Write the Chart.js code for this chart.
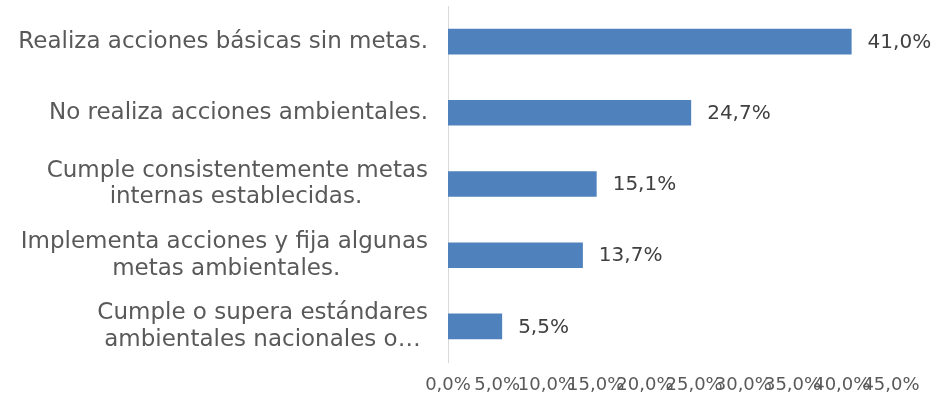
<!DOCTYPE html>
<html>
<head>
<meta charset="utf-8">
<script src="https://cdn.jsdelivr.net/npm/chart.js@4"></script>
<style>
  html, body { margin: 0; padding: 0; background: #fff; }
  #wrap { width: 936px; height: 406px; }
</style>
</head>
<body>
<div id="wrap"><canvas id="barras"></canvas></div>
<script>
let categorias = [
    ['Realiza acciones básicas sin metas.'],
    ['No realiza acciones ambientales.'],
    ['Cumple consistentemente metas', 'internas establecidas.'],
    ['Implementa acciones y fija algunas', 'metas ambientales.'],
    ['Cumple o supera estándares', 'ambientales nacionales o…']
];
let porcentajes = [41.0, 24.7, 15.1, 13.7, 5.5];
let ticksX = [0, 5, 10, 15, 20, 25, 30, 35, 40, 45];

const fuente = "'DejaVu Sans', sans-serif";
const tamCat = 23;

function formato(v) {
    return v.toFixed(1).replace('.', ',') + '%';
}

// centra las lineas de cada etiqueta entre si (el bloque queda alineado a la derecha)
const medidor = document.createElement('canvas').getContext('2d');
function centrarLineas(lineas) {
    if (lineas.length < 2) return lineas;
    medidor.font = tamCat + 'px ' + fuente;
    const anchoEsp = medidor.measureText(' ').width;
    const anchos = lineas.map(l => medidor.measureText(l).width);
    const maximo = Math.max(...anchos);
    return lineas.map((l, i) => l + ' '.repeat(Math.round((maximo - anchos[i]) / 2 / anchoEsp)));
}

// etiquetas de valor a la derecha de cada barra
const etiquetas = {
    id: 'etiquetas',
    afterDatasetsDraw(chart) {
        const ctx = chart.ctx;
        const meta = chart.getDatasetMeta(0);
        ctx.save();
        ctx.font = '20px ' + fuente;
        ctx.fillStyle = '#404040';
        ctx.textAlign = 'left';
        ctx.textBaseline = 'middle';
        meta.data.forEach((bar, i) => {
            ctx.fillText(formato(porcentajes[i]), bar.x + 16, bar.y + 1);
        });
        ctx.restore();
    }
};

const config = {
    type: 'bar',
    data: {
        labels: categorias,
        datasets: [{
            data: porcentajes,
            backgroundColor: '#4f81bd',
            borderWidth: 0,
            categoryPercentage: 1,
            barPercentage: 0.36
        }]
    },
    options: {
        indexAxis: 'y',
        responsive: true,
        maintainAspectRatio: false,
        animation: false,
        layout: { padding: { top: 6, right: 45, left: 0, bottom: 0 } },
        plugins: {
            legend: { display: false },
            tooltip: { enabled: false }
        },
        scales: {
            x: {
                min: 0,
                max: 45,
                afterBuildTicks(scale) {
                    scale.ticks = ticksX.map(v => ({ value: v }));
                },
                afterFit(scale) {
                    scale.height = 44;
                    scale.paddingRight = 0;
                    scale.paddingLeft = 0;
                },
                grid: { display: false, drawTicks: false },
                border: { display: false },
                ticks: {
                    autoSkip: false,
                    maxRotation: 0,
                    padding: 13,
                    color: '#595959',
                    font: { family: fuente, size: 18 },
                    callback: v => formato(v)
                }
            },
            y: {
                afterFit(scale) {
                    scale.width = 448;
                    scale.paddingTop = 0;
                    scale.paddingBottom = 0;
                },
                grid: { display: false, drawTicks: false },
                border: { display: true, color: '#d9d9d9', width: 1 },
                ticks: {
                    padding: 20,
                    color: '#595959',
                    font: { family: fuente, size: tamCat, lineHeight: 1.17 },
                    callback: (v, i) => centrarLineas(categorias[i])
                }
            }
        }
    },
    plugins: [etiquetas]
};

const barras = new Chart(document.getElementById('barras'), config);
</script>
</body>
</html>
